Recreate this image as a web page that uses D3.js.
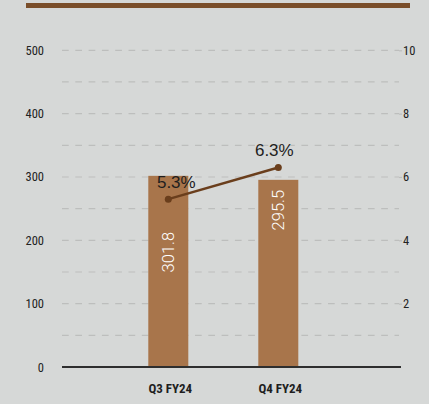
<!DOCTYPE html>
<html>
<head>
<meta charset="utf-8">
<script src="https://cdn.jsdelivr.net/npm/d3@7"></script>
<style>
  html, body { margin: 0; padding: 0; background: #d6d8d7; }
  svg { display: block; }
  .cond { font-family: "Roboto Condensed", "Liberation Sans Narrow", "DejaVu Sans Condensed", "Roboto", sans-serif; }
</style>
</head>
<body>
<svg id="chart" width="429" height="404"></svg>
<script>
// Quarterly revenue (bars, left axis) and margin % (line, right axis)
const categories = ["Q3 FY24", "Q4 FY24"];
const revenue = [301.8, 295.5];
const marginPct = [5.3, 6.3];
const leftTicks = [0, 100, 200, 300, 400, 500];
const rightTicks = [2, 4, 6, 8, 10];
const gridValues = [50, 100, 150, 200, 250, 300, 350, 400, 450, 500];

const W = 429, H = 404;
const plot = { left: 62, right: 401, top: 50.3, bottom: 367 };

const svg = d3.select("#chart");

svg.append("rect").attr("width", W).attr("height", H).attr("fill", "#d6d8d7");

// Header rule
svg.append("rect")
  .attr("x", 26).attr("y", 3).attr("width", 384).attr("height", 5)
  .attr("fill", "#7a4e2a");

const y = d3.scaleLinear().domain([0, 500]).range([plot.bottom, plot.top]);
const y2 = d3.scaleLinear().domain([0, 10]).range([plot.bottom, plot.top]);
const x = d3.scaleBand().domain(categories).range([113.3, 333.3]).paddingInner(70 / 110).paddingOuter(35 / 110);

// Dashed gridlines
svg.append("g").selectAll("line")
  .data(gridValues)
  .join("line")
  .attr("x1", plot.left).attr("x2", plot.right - 2)
  .attr("y1", d => y(d)).attr("y2", d => y(d))
  .attr("stroke", "#bdbebd").attr("stroke-width", 1.2)
  .attr("stroke-dasharray", "6.7,6.6");

// Left axis labels
const leftAxis = svg.append("g")
  .attr("transform", `translate(${plot.left - 18},0)`)
  .call(d3.axisLeft(y).tickValues(leftTicks).tickSize(0).tickPadding(0).tickFormat(d3.format("d")));
leftAxis.select(".domain").remove();
leftAxis.selectAll("text")
  .attr("class", "cond")
  .attr("font-size", 12.5).attr("fill", "#222");

// Right axis with short ticks
const rightAxis = svg.append("g")
  .attr("transform", `translate(${plot.right - 2},0)`)
  .call(d3.axisRight(y2).tickValues(rightTicks).tickSize(3).tickPadding(1).tickFormat(d3.format("d")));
rightAxis.select(".domain").remove();
rightAxis.selectAll("line").attr("stroke", "#bdbebd").attr("stroke-width", 1.2);
rightAxis.selectAll("text")
  .attr("class", "cond")
  .attr("font-size", 12.5).attr("fill", "#222");

// Bars
svg.append("g").selectAll("rect")
  .data(categories)
  .join("rect")
  .attr("x", d => x(d))
  .attr("width", x.bandwidth())
  .attr("y", (d, i) => y(revenue[i]))
  .attr("height", (d, i) => y(0) - y(revenue[i]))
  .attr("fill", "#a8754b");

// Baseline
svg.append("line")
  .attr("x1", plot.left).attr("x2", plot.right)
  .attr("y1", plot.bottom).attr("y2", plot.bottom)
  .attr("stroke", "#2e2e2e").attr("stroke-width", 2);

// Bar value labels, rotated
const labelDrop = [56, 10];
svg.append("g").selectAll("text")
  .data(categories)
  .join("text")
  .attr("transform", (d, i) => `translate(${x(d) + x.bandwidth() / 2 + 6},${y(revenue[i]) + labelDrop[i]}) rotate(-90)`)
  .attr("text-anchor", "end")
  .attr("font-family", "Roboto, sans-serif")
  .attr("font-weight", 300)
  .attr("font-size", 16.5)
  .attr("fill", "#ffffff")
  .text((d, i) => revenue[i].toFixed(1));

// Margin line
const cx = d => x(d) + x.bandwidth() / 2;
const line = d3.line()
  .x((d, i) => cx(categories[i]))
  .y(d => y2(d));
svg.append("path")
  .datum(marginPct)
  .attr("d", line)
  .attr("fill", "none")
  .attr("stroke", "#6a3e1c")
  .attr("stroke-width", 2.5);
svg.append("g").selectAll("circle")
  .data(marginPct)
  .join("circle")
  .attr("cx", (d, i) => cx(categories[i]))
  .attr("cy", d => y2(d))
  .attr("r", 3.5)
  .attr("fill", "#6a3e1c");

// Margin labels
svg.append("g").selectAll("text")
  .data(marginPct)
  .join("text")
  .attr("x", (d, i) => cx(categories[i]) + (i === 0 ? 8 : -4))
  .attr("y", d => y2(d) - 11)
  .attr("text-anchor", "middle")
  .attr("font-family", "Liberation Sans, Arial, sans-serif")
  .attr("font-size", 17)
  .attr("fill", "#1e1e1e")
  .text(d => d.toFixed(1) + "%");

// Category labels
svg.append("g").selectAll("text")
  .data(categories)
  .join("text")
  .attr("class", "cond")
  .attr("x", d => cx(d) + 2)
  .attr("y", 393)
  .attr("text-anchor", "middle")
  .attr("font-size", 13)
  .attr("font-weight", "bold")
  .attr("fill", "#1e1e1e")
  .text(d => d);
</script>
</body>
</html>
